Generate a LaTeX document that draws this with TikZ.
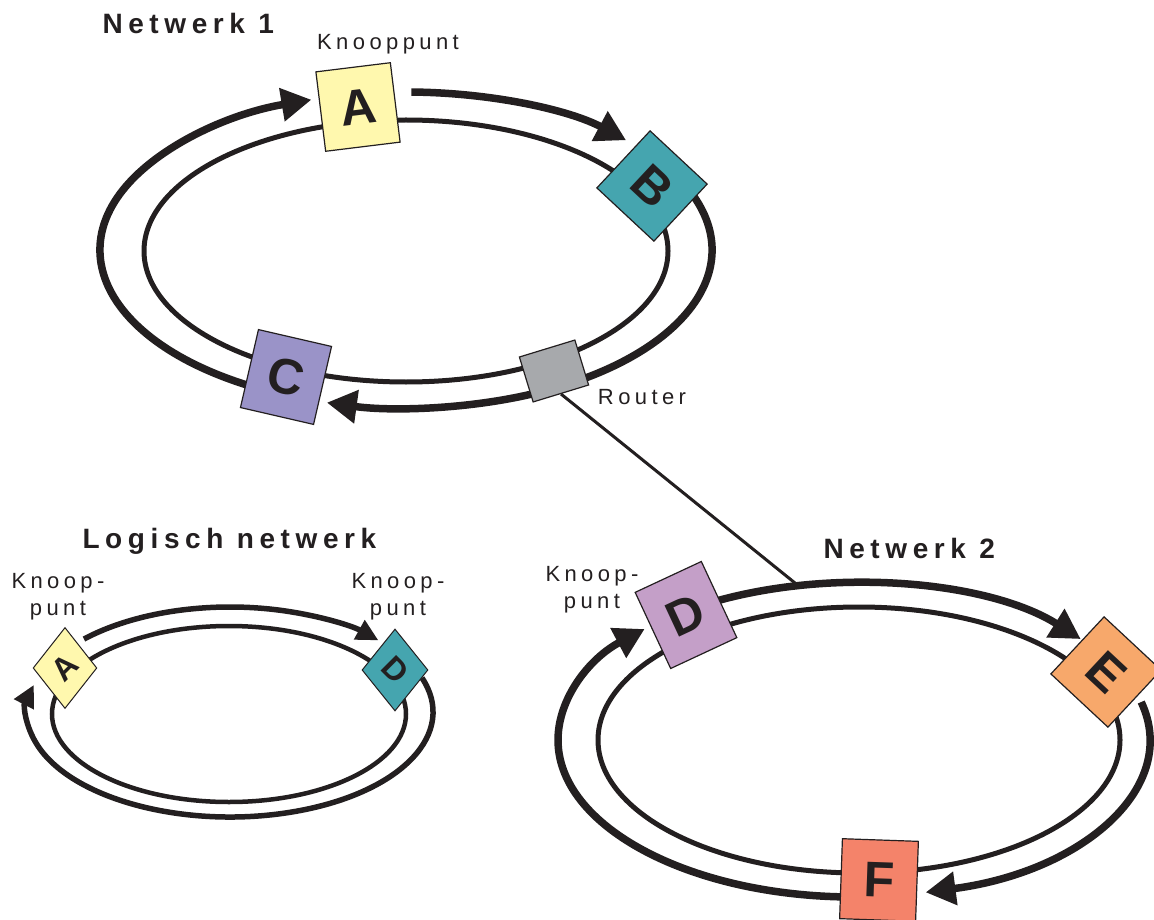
\documentclass[tikz,border=0pt]{standalone}
\usepackage{fontspec}
\setmainfont{Liberation Sans}
\newfontfamily\spacedfont[LetterSpace=20]{Liberation Sans}
\usetikzlibrary{arrows.meta,shapes.geometric,backgrounds}

\definecolor{ink}{HTML}{231F20}
\definecolor{paleyellow}{HTML}{FFF8AE}
\definecolor{nodeteal}{HTML}{45A5AF}
\definecolor{lavender}{HTML}{9A93C8}
\definecolor{routergray}{HTML}{A7A9AC}
\definecolor{lilac}{HTML}{C49FC8}
\definecolor{apricot}{HTML}{F7A86B}
\definecolor{salmon}{HTML}{F4836A}

\tikzset{
  ring/.style={draw=ink, line width=7.5pt},
  inring/.style={draw=ink, line width=5pt},
  bigtip/.style={-{Triangle[length=30pt,width=32pt]}},
  smalltip/.style={-{Triangle[length=22pt,width=21pt]}},
  station/.style={draw=ink, line width=1.2pt, inner sep=0pt, text=ink,
    font=\bfseries\fontsize{50}{50}\selectfont},
  smallstation/.style={diamond, draw=ink, line width=1pt, inner sep=0pt, text=ink,
    font=\bfseries\fontsize{32}{32}\selectfont},
  title/.style={anchor=base west, text=ink, font=\spacedfont\bfseries\fontsize{28}{30}\selectfont},
  caption/.style={text=ink, align=center, font=\spacedfont\fontsize{22}{27}\selectfont}
}

\begin{document}
\begin{tikzpicture}[x=1pt, y=-1pt]
\useasboundingbox (0,0) rectangle (1154,920);

% Netwerk 1
\node[title] (net1) at (99,34) {Netwerk 1};
\node[caption] (knp) at (388,44) {Knooppunt};
\node[station, fill=paleyellow, minimum width=75pt, minimum height=80pt, rotate=7] (A) at (358,107) {A};
\node[station, fill=nodeteal, minimum width=78pt, minimum height=78pt, rotate=-43] (B) at (652,186) {B};
\node[station, fill=lavender, minimum width=75pt, minimum height=80pt, rotate=-13] (C) at (286,377) {C};
\node[station, fill=routergray, minimum width=58pt, minimum height=47pt, rotate=17] (router) at (554,371) {};
\node[caption] (routerlabel) at (642,397) {Router};

% Netwerk 2
\node[title] (net2) at (820,558) {Netwerk 2};
\node[caption] (knp2) at (592,590) {Knoop-\\punt};
\node[station, fill=lilac, minimum width=73pt, minimum height=84pt, rotate=25] (D) at (686,615) {D};
\node[station, fill=apricot, minimum width=78pt, minimum height=78pt, rotate=-43] (E) at (1106,672) {E};
\node[station, fill=salmon, minimum width=76pt, minimum height=80pt, rotate=-2] (F) at (879,880) {F};
\coordinate (tap) at (795,583);

% Logisch netwerk
\node[title] (lognet) at (79,548) {Logisch netwerk};
\node[caption] (knpA) at (58,597) {Knoop-\\punt};
\node[caption] (knpD) at (398,597) {Knoop-\\punt};
\node[smallstation, fill=paleyellow, minimum width=60pt, minimum height=81pt] (a) at (65,668) {\rotatebox{45}{A}};
\node[smallstation, fill=nodeteal, minimum width=66pt, minimum height=82pt] (d) at (395,670) {\rotatebox{-45}{D}};

\begin{scope}[on background layer]
  % rings of netwerk 1
  \draw[inring] (406,251) ellipse [x radius=262, y radius=131];
  \draw[ring,bigtip] (406,250) ++(115:306 and 158) arc[start angle=115, end angle=252, x radius=306, y radius=158];
  \draw[ring,bigtip] (406,250) ++(271:306 and 158) arc[start angle=271, end angle=316, x radius=306, y radius=158];
  \draw[ring,bigtip] (406,250) ++(340:306 and 158) arc[start angle=340, end angle=465, x radius=306, y radius=158];

  % rings of netwerk 2
  \draw[inring] (859,740) ellipse [x radius=261, y radius=133];
  \draw[ring,bigtip] (854,740) ++(241:296 and 157) arc[start angle=241, end angle=320, x radius=296, y radius=157];
  \draw[ring,bigtip] (854,740) ++(346:296 and 157) arc[start angle=346, end angle=436, x radius=296, y radius=157];
  \draw[ring,bigtip] (854,740) ++(90:296 and 157) arc[start angle=90, end angle=225, x radius=296, y radius=157];

  % logical ring
  \draw[inring,line width=4.5pt] (229,714) ellipse [x radius=177, y radius=88];
  \draw[ring,line width=5.5pt,smalltip] (230,712) ++(224:203 and 105) arc[start angle=224, end angle=317, x radius=203, y radius=105];
  \draw[ring,line width=5.5pt,smalltip] (230,712) ++(341:203 and 105) arc[start angle=341, end angle=555, x radius=203, y radius=105];

  % router link
  \draw[ink, line width=3pt] (router.south) -- (tap);
\end{scope}
\end{tikzpicture}
\end{document}
